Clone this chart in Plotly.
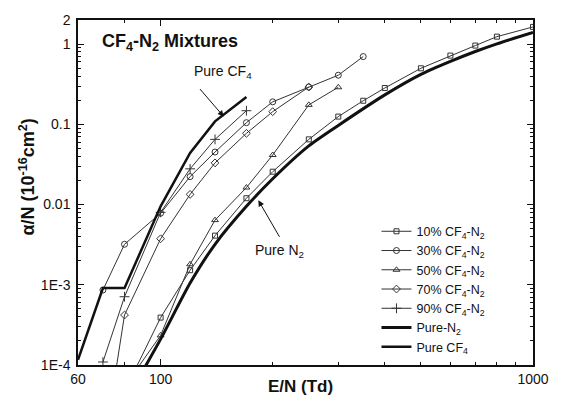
import plotly.graph_objects as go

# ---- data (E/N in Td, alpha/N in 1e-16 cm^2) ----
x_10 = [80, 100, 120, 140, 170, 200, 250, 300, 350, 400, 500, 600, 700, 800, 1000]
y_10 = [4.7e-5, 3.9e-4, 1.52e-3, 4.1e-3, 0.012, 0.0257, 0.065, 0.125, 0.197, 0.284, 0.50, 0.72, 0.96, 1.24, 1.64]

x_30 = [70, 80, 100, 120, 140, 170, 200, 250, 300, 350]
y_30 = [8.6e-4, 3.2e-3, 7.8e-3, 0.0223, 0.0452, 0.105, 0.191, 0.292, 0.41, 0.70]

x_50 = [80, 100, 120, 140, 170, 200, 250, 300]
y_50 = [5.4e-5, 2.34e-4, 1.8e-3, 6.4e-3, 0.0163, 0.0415, 0.175, 0.29]

x_70 = [70, 80, 100, 120, 140, 170, 200, 250]
y_70 = [8e-6, 4.2e-4, 3.75e-3, 0.0134, 0.0331, 0.0773, 0.144, 0.292]

x_90 = [70, 80, 100, 120, 140, 170]
y_90 = [1.09e-4, 7.1e-4, 8.0e-3, 0.0279, 0.065, 0.148]

x_n2 = [85, 100, 120, 140, 170, 200, 250, 300, 400, 500, 600, 700, 800, 1000]
y_n2 = [5.5e-5, 2.1e-4, 1.05e-3, 3.2e-3, 9.5e-3, 0.021, 0.054, 0.097, 0.233, 0.42, 0.61, 0.81, 1.01, 1.40]

x_cf4 = [60, 70, 80, 100, 120, 140, 170]
y_cf4 = [1.16e-4, 9.1e-4, 9.1e-4, 9.5e-3, 0.044, 0.109, 0.22]

x_tickvals = [60, 100, 1000]
x_ticktext = ["60", "100", "1000"]
x_minor = [80, 200, 300, 400, 500, 600, 700, 800, 900]
y_tickvals = [1e-4, 1e-3, 0.01, 0.1, 1, 2]
y_ticktext = ["1E-4", "1E-3", "0.01", "0.1", "1", "2"]
y_minor = [m * 10 ** e for e in range(-4, 0) for m in range(2, 10)]

FONT = "Arial, Liberation Sans, sans-serif"
INK = "#111111"
THIN = "#333333"

fig = go.Figure()

def mix(x, y, name, symbol, size=6):
    fig.add_trace(go.Scatter(
        x=x, y=y, name=name, mode="lines+markers",
        line=dict(color=THIN, width=1),
        marker=dict(symbol=symbol, size=size, color=THIN,
                    line=dict(color=THIN, width=1)),
    ))

mix(x_10, y_10, "10% CF<sub>4</sub>-N<sub>2</sub>", "square-open", 5)
mix(x_30, y_30, "30% CF<sub>4</sub>-N<sub>2</sub>", "circle-open", 6)
mix(x_50, y_50, "50% CF<sub>4</sub>-N<sub>2</sub>", "triangle-up-open", 6)
mix(x_70, y_70, "70% CF<sub>4</sub>-N<sub>2</sub>", "diamond-open", 6)
mix(x_90, y_90, "90% CF<sub>4</sub>-N<sub>2</sub>", "cross-thin", 7)

fig.add_trace(go.Scatter(x=x_n2, y=y_n2, name="Pure-N<sub>2</sub>", mode="lines",
                         line=dict(color=INK, width=3, shape="spline", smoothing=0.6)))
fig.add_trace(go.Scatter(x=x_cf4, y=y_cf4, name="Pure CF<sub>4</sub>", mode="lines",
                         line=dict(color=INK, width=2.5)))

axis_common = dict(
    type="log", showgrid=False, zeroline=False,
    showline=True, linecolor=INK, linewidth=1.5, mirror="allticks",
    ticks="inside", ticklen=6, tickwidth=1.2, tickcolor=INK,
    tickfont=dict(family=FONT, size=14, color=INK),
)

fig.update_xaxes(
    **axis_common,
    range=[1.7781513, 3.0],
    tickmode="array", tickvals=x_tickvals, ticktext=x_ticktext,
    minor=dict(tickmode="array", tickvals=x_minor, ticks="inside", ticklen=3,
               tickcolor=INK, tickwidth=1, showgrid=False),
)
fig.update_yaxes(
    **axis_common,
    range=[-4, 0.30103],
    tickmode="array", tickvals=y_tickvals, ticktext=y_ticktext,
    ticklabelstandoff=3,
    minor=dict(tickmode="array", tickvals=y_minor, ticks="inside", ticklen=3,
               tickcolor=INK, tickwidth=1, showgrid=False),
)

annos = [
    dict(text="<b>CF<sub>4</sub>-N<sub>2</sub> Mixtures</b>", xref="paper", yref="paper",
         x=0.048, y=0.934, xanchor="left", yanchor="middle", showarrow=False,
         font=dict(family=FONT, size=18, color=INK)),
    dict(text="Pure CF<sub>4</sub>", xref="paper", yref="paper",
         x=0.318, y=0.85, xanchor="center", yanchor="middle", showarrow=False,
         font=dict(family=FONT, size=14, color=INK)),
    dict(text="Pure N<sub>2</sub>", xref="paper", yref="paper",
         x=0.442, y=0.329, xanchor="center", yanchor="middle", showarrow=False,
         font=dict(family=FONT, size=14, color=INK)),
    dict(text="", x=2.1694, y=-0.903, xref="x", yref="y", showarrow=True,
         ax=-25, ay=-29, arrowhead=2, arrowsize=1.2, arrowwidth=1, arrowcolor=INK),
    dict(text="", x=2.2625, y=-1.947, xref="x", yref="y", showarrow=True,
         ax=22, ay=38, arrowhead=2, arrowsize=1.2, arrowwidth=1, arrowcolor=INK),
    dict(text="<b>E/N (Td)</b>", xref="paper", yref="paper", x=0.49, y=-0.063,
         xanchor="center", yanchor="middle", showarrow=False,
         font=dict(family=FONT, size=17, color=INK)),
    dict(text="<b>\u03b1/N (10<sup>-16</sup>cm<sup>2</sup>)</b>", xref="paper", yref="paper",
         x=-0.111, y=0.545, xanchor="center", yanchor="middle", showarrow=False,
         textangle=-90, font=dict(family=FONT, size=18, color=INK)),
]

fig.update_layout(
    width=561, height=407,
    margin=dict(l=78, r=24, t=15, b=42),
    paper_bgcolor="white", plot_bgcolor="white",
    font=dict(family=FONT, color=INK),
    annotations=annos,
    legend=dict(x=0.656, y=0.43, xanchor="left", yanchor="top",
                bgcolor="rgba(0,0,0,0)", borderwidth=0,
                font=dict(family=FONT, size=12.5, color=INK),
                tracegroupgap=0, itemwidth=30),
)

fig.write_html("out.html")
